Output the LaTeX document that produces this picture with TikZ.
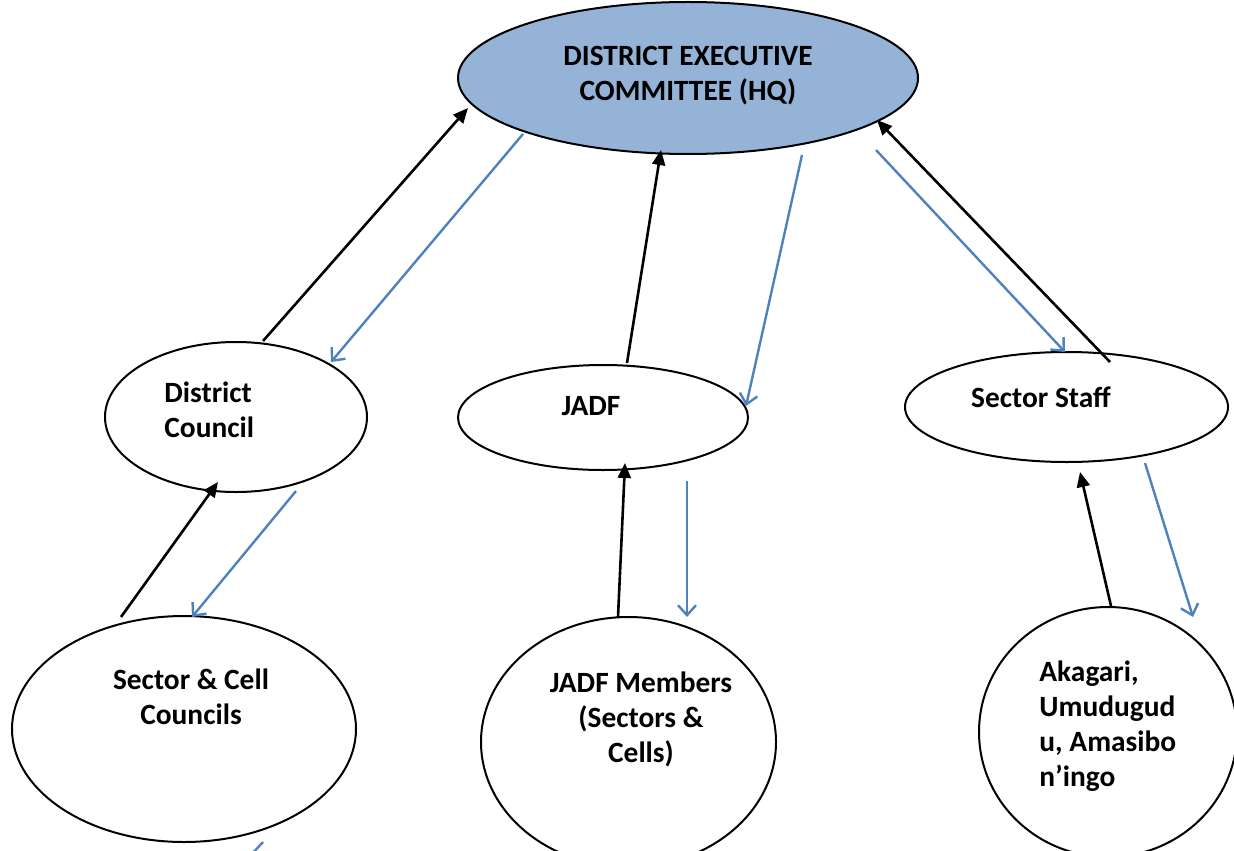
\documentclass[tikz,border=0pt]{standalone}
\usepackage{fontspec}
\setmainfont{Carlito}
\usetikzlibrary{shapes.geometric,arrows.meta}
\definecolor{hqfill}{HTML}{95B3D7}
\definecolor{bluearrow}{HTML}{4F81BD}
\tikzset{
  oval/.style={draw=black, line width=1pt, ellipse, inner sep=0pt},
  lbl/.style={font=\bfseries\fontsize{14.7}{17.5}\selectfont, inner sep=0pt},
  up/.style={draw=black, line width=1.3pt, -{Triangle[length=7.5pt,width=6.5pt]}},
  down/.style={draw=bluearrow, line width=1.2pt, -{Straight Barb[length=5pt,width=9pt]}}
}
\begin{document}
\begin{tikzpicture}[x=0.5pt,y=-0.5pt]
\useasboundingbox (0,0) rectangle (1234,850);
% ovals
\node[oval, fill=hqfill, minimum width=230pt, minimum height=76pt] (hq) at (688,78) {};
\node[oval, minimum width=131pt, minimum height=75pt] (dc) at (236,417) {};
\node[oval, minimum width=145pt, minimum height=52.5pt] (jadf) at (603,417.5) {};
\node[oval, minimum width=161.5pt, minimum height=55pt] (ss) at (1066.5,407) {};
\node[oval, minimum width=172pt, minimum height=113pt] (scc) at (184,729) {};
\node[oval, minimum width=147.5pt, minimum height=125pt] (jm) at (628.5,742) {};
\node[oval, minimum width=129pt, minimum height=125pt] (ak) at (1108,732) {};
% labels
\node[lbl, align=center] (thq) at (688,76) {DISTRICT EXECUTIVE\\COMMITTEE (HQ)};
\node[lbl, align=left, anchor=west] (tdc) at (164,410) {District\\Council};
\node[lbl] (tjadf) at (591,406) {JADF};
\node[lbl] (tss) at (1041,397) {Sector Staff};
\node[lbl, align=center] (tscc) at (191,697) {Sector \& Cell\\Councils};
\node[lbl, align=center] (tjm) at (641,719) {JADF Members\\(Sectors \&\\Cells)};
\node[lbl, align=left, anchor=west] (tak) at (1039,726) {Akagari,\\Umudugud\\u, Amasibo\\n’ingo};
% arrow end points
\coordinate (b1s) at (263,341);   \coordinate (b1e) at (468,108);
\coordinate (b2s) at (627,363);   \coordinate (b2e) at (661,150);
\coordinate (b3s) at (1110,362);  \coordinate (b3e) at (877,120);
\coordinate (b4s) at (121,617);   \coordinate (b4e) at (218,482);
\coordinate (b5s) at (618,617);   \coordinate (b5e) at (625,463);
\coordinate (b6s) at (1111,606);  \coordinate (b6e) at (1080,472);
\coordinate (u1s) at (523,134);   \coordinate (u1e) at (331,362);
\coordinate (u2s) at (802,155);   \coordinate (u2e) at (746,406);
\coordinate (u3s) at (876,150);   \coordinate (u3e) at (1065,352);
\coordinate (u4s) at (296,491);   \coordinate (u4e) at (192,617);
\coordinate (u5s) at (687,481);   \coordinate (u5e) at (687,617);
\coordinate (u6s) at (1145,463);  \coordinate (u6e) at (1193,617);
\coordinate (u7s) at (263,842);   \coordinate (u7e) at (250,856);
% black (upward) arrows
\draw[up] (b1s) -- (b1e);
\draw[up] (b2s) -- (b2e);
\draw[up] (b3s) -- (b3e);
\draw[up] (b4s) -- (b4e);
\draw[up] (b5s) -- (b5e);
\draw[up] (b6s) -- (b6e);
% blue (downward) arrows
\draw[down] (u1s) -- (u1e);
\draw[down] (u2s) -- (u2e);
\draw[down] (u3s) -- (u3e);
\draw[down] (u4s) -- (u4e);
\draw[down] (u5s) -- (u5e);
\draw[down] (u6s) -- (u6e);
\draw[draw=bluearrow, line width=1.2pt] (u7s) -- (u7e);
\end{tikzpicture}
\end{document}
